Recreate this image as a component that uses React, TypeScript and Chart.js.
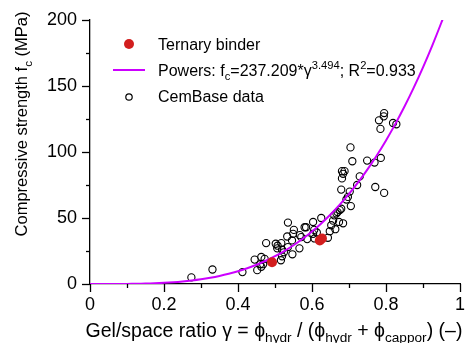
import React, { useEffect, useRef } from "react";
import { Chart, registerables } from "chart.js";

Chart.register(...registerables);

// Ternary binder (red filled dots)
const ternaryX = [0.492, 0.621, 0.627];
const ternaryY = [16.5, 33, 34.5];

// CemBase data (open circles)
const cemX = [
  0.274, 0.331, 0.412, 0.445, 0.452, 0.463, 0.463, 0.468, 0.472, 0.476,
  0.502, 0.507, 0.506, 0.516, 0.519, 0.524, 0.535, 0.535, 0.547, 0.551,
  0.549, 0.533, 0.546, 0.517, 0.566, 0.567, 0.58, 0.584, 0.571, 0.587,
  0.603, 0.603, 0.606, 0.613, 0.625, 0.607, 0.643, 0.648, 0.652, 0.657,
  0.666, 0.669, 0.675, 0.679, 0.663, 0.673, 0.684, 0.693, 0.697, 0.705,
  0.679, 0.702, 0.681, 0.684, 0.681, 0.688, 0.722, 0.729, 0.704, 0.709,
  0.749, 0.769, 0.786, 0.771, 0.795, 0.795, 0.794, 0.781, 0.785, 0.819,
  0.828, 0.46, 0.519, 0.66,
];
const cemY = [
  5, 11, 9, 18.5, 10.5, 20.5, 13, 15, 19, 31,
  30.5, 29, 27, 18, 21, 24, 28, 46.5, 22.5, 41,
  38, 36, 33, 31, 27, 37, 43, 43, 35.5, 34,
  38, 47, 41, 39, 50, 34.5, 35, 40, 44.5, 48,
  53.5, 54.5, 56, 57, 41.5, 47, 46, 64, 66, 59,
  71.5, 70, 80, 83.5, 85.5, 85.5, 75, 81.5, 103.5, 93,
  93.5, 92, 95.5, 73.5, 69, 129.5, 127, 124, 117.5, 122,
  121, 15, 26, 52,
];

// Powers fit: fc = A * gamma^B (coefficients from the legend)
const fitA = 237.209;
const fitB = 3.494;
const curveX = [
  0, 0.025, 0.05, 0.075, 0.1, 0.125, 0.15, 0.175, 0.2, 0.225, 0.25, 0.275,
  0.3, 0.325, 0.35, 0.375, 0.4, 0.425, 0.45, 0.475, 0.5, 0.525, 0.55, 0.575,
  0.6, 0.625, 0.65, 0.675, 0.7, 0.725, 0.75, 0.775, 0.8, 0.825, 0.85, 0.875,
  0.9, 0.925, 0.95, 0.975,
];

const xMajorTicks = [0, 0.2, 0.4, 0.6, 0.8, 1];
const yMajorTicks = [0, 50, 100, 150, 200];

const FONT = "'Liberation Sans', Arial, Helvetica, sans-serif";
const RED = "#d21e1e";
const MAGENTA = "#cc00ff";

type Seg = { t: string; k?: "sub" | "sup" };

function richWidth(ctx: CanvasRenderingContext2D, segs: Seg[], size: number) {
  let w = 0;
  for (const s of segs) {
    const fs = s.k ? size * 0.7 : size;
    ctx.font = `${fs}px ${FONT}`;
    w += ctx.measureText(s.t).width;
  }
  return w;
}

function drawRich(ctx: CanvasRenderingContext2D, segs: Seg[], x: number, y: number, size: number) {
  let cx = x;
  ctx.textBaseline = "alphabetic";
  ctx.textAlign = "left";
  for (const s of segs) {
    const fs = s.k ? size * 0.7 : size;
    ctx.font = `${fs}px ${FONT}`;
    let dy = 0;
    if (s.k === "sub") dy = size * 0.28;
    if (s.k === "sup") dy = -size * 0.4;
    ctx.fillText(s.t, cx, y + dy);
    cx += ctx.measureText(s.t).width;
  }
  return cx - x;
}

const decorPlugin = {
  id: "decor",
  afterDraw(chart: any) {
    const ctx: CanvasRenderingContext2D = chart.ctx;
    const xs = chart.scales.x;
    const ys = chart.scales.y;
    const area = chart.chartArea;
    ctx.save();
    ctx.strokeStyle = "#000";
    ctx.lineWidth = 1.3;
    // x ticks (outward)
    for (let i = 0; i <= 10; i++) {
      const v = i / 10;
      const px = Math.round(xs.getPixelForValue(v)) + 0.5;
      const len = i % 2 === 0 ? 8 : 4;
      ctx.beginPath();
      ctx.moveTo(px, area.bottom);
      ctx.lineTo(px, area.bottom + len);
      ctx.stroke();
    }
    // y ticks (outward)
    for (let i = 0; i <= 8; i++) {
      const v = i * 25;
      const py = Math.round(ys.getPixelForValue(v)) + 0.5;
      const len = i % 2 === 0 ? 8 : 4;
      ctx.beginPath();
      ctx.moveTo(area.left, py);
      ctx.lineTo(area.left - len, py);
      ctx.stroke();
    }

    ctx.fillStyle = "#000";
    // X title
    const xTitle: Seg[] = [
      { t: "Gel/space ratio \u03b3 = \u03d5" },
      { t: "hydr", k: "sub" },
      { t: " / (\u03d5" },
      { t: "hydr", k: "sub" },
      { t: " + \u03d5" },
      { t: "cappor", k: "sub" },
      { t: ") (\u2013)" },
    ];
    const xs0 = 19.5;
    const xw = richWidth(ctx, xTitle, xs0);
    drawRich(ctx, xTitle, 274 - xw / 2, 337, xs0);

    // Y title
    const yTitle: Seg[] = [
      { t: "Compressive strength f" },
      { t: "c", k: "sub" },
      { t: " (MPa)" },
    ];
    const ys0 = 16.5;
    const yw = richWidth(ctx, yTitle, ys0);
    ctx.save();
    ctx.translate(27, 124);
    ctx.rotate(-Math.PI / 2);
    drawRich(ctx, yTitle, -yw / 2, 0, ys0);
    ctx.restore();

    // Legend
    const lx = 129;
    const tx = 158;
    const ls = 16;
    ctx.fillStyle = RED;
    ctx.beginPath();
    ctx.arc(lx, 44, 5, 0, Math.PI * 2);
    ctx.fill();
    ctx.fillStyle = "#000";
    drawRich(ctx, [{ t: "Ternary binder" }], tx, 49.5, ls);
    ctx.strokeStyle = MAGENTA;
    ctx.lineWidth = 2;
    ctx.beginPath();
    ctx.moveTo(113, 70);
    ctx.lineTo(145, 70);
    ctx.stroke();
    drawRich(
      ctx,
      [
        { t: "Powers: f" },
        { t: "c", k: "sub" },
        { t: "=237.209*\u03b3" },
        { t: "3.494", k: "sup" },
        { t: "; R" },
        { t: "2", k: "sup" },
        { t: "=0.933" },
      ],
      tx,
      75.5,
      ls
    );
    ctx.strokeStyle = "#000";
    ctx.lineWidth = 1.2;
    ctx.beginPath();
    ctx.arc(lx, 97, 3.2, 0, Math.PI * 2);
    ctx.stroke();
    drawRich(ctx, [{ t: "CemBase data" }], tx, 102, ls);
    ctx.restore();
  },
};

export default function App() {
  const ref = useRef<HTMLCanvasElement | null>(null);
  useEffect(() => {
    if (!ref.current) return;
    const chart = new Chart(ref.current, {
      type: "scatter",
      data: {
        datasets: [
          {
            label: "Ternary binder",
            data: ternaryX.map((x, i) => ({ x, y: ternaryY[i] })),
            backgroundColor: RED,
            borderColor: RED,
            pointRadius: 5,
            borderWidth: 0,
            order: 0,
          },
          {
            label: "Powers",
            data: curveX.map((x) => ({ x, y: fitA * Math.pow(x, fitB) })),
            showLine: true,
            borderColor: MAGENTA,
            borderWidth: 2,
            pointRadius: 0,
            tension: 0.3,
            order: 1,
          },
          {
            label: "CemBase data",
            data: cemX.map((x, i) => ({ x, y: cemY[i] })),
            backgroundColor: "rgba(0,0,0,0)",
            borderColor: "#000",
            borderWidth: 1.1,
            pointRadius: 3.6,
            order: 2,
          },
        ],
      },
      options: {
        responsive: false,
        animation: false,
        layout: { padding: { top: 20, right: 7, left: 0, bottom: 0 } },
        plugins: {
          legend: { display: false },
          tooltip: { enabled: false },
        },
        scales: {
          x: {
            type: "linear",
            min: 0,
            max: 1,
            afterFit: (s: any) => {
              s.height = 59;
              s.paddingLeft = 0;
              s.paddingRight = 0;
            },
            afterBuildTicks: (s: any) => {
              s.ticks = xMajorTicks.map((v) => ({ value: v }));
            },
            grid: { display: false, drawTicks: false },
            border: { display: true, color: "#000", width: 1.3 },
            ticks: {
              padding: 10,
              color: "#000",
              font: { family: FONT, size: 18 },
              maxRotation: 0,
              callback: (v: any) => String(Math.round(Number(v) * 10) / 10),
            },
          },
          y: {
            type: "linear",
            min: 0,
            max: 200,
            afterFit: (s: any) => {
              s.width = 90;
              s.paddingTop = 0;
              s.paddingBottom = 0;
            },
            afterBuildTicks: (s: any) => {
              s.ticks = yMajorTicks.map((v) => ({ value: v }));
            },
            grid: { display: false, drawTicks: false },
            border: { display: true, color: "#000", width: 1.3 },
            ticks: {
              padding: 13,
              color: "#000",
              font: { family: FONT, size: 18 },
              callback: (v: any) => String(v),
            },
          },
        },
      },
      plugins: [decorPlugin],
    });
    return () => chart.destroy();
  }, []);
  return (
    <div style={{ position: "fixed", left: 0, top: 0, width: 467, height: 343, background: "#fff" }}>
      <canvas ref={ref} width={467} height={343} style={{ display: "block" }} />
    </div>
  );
}
